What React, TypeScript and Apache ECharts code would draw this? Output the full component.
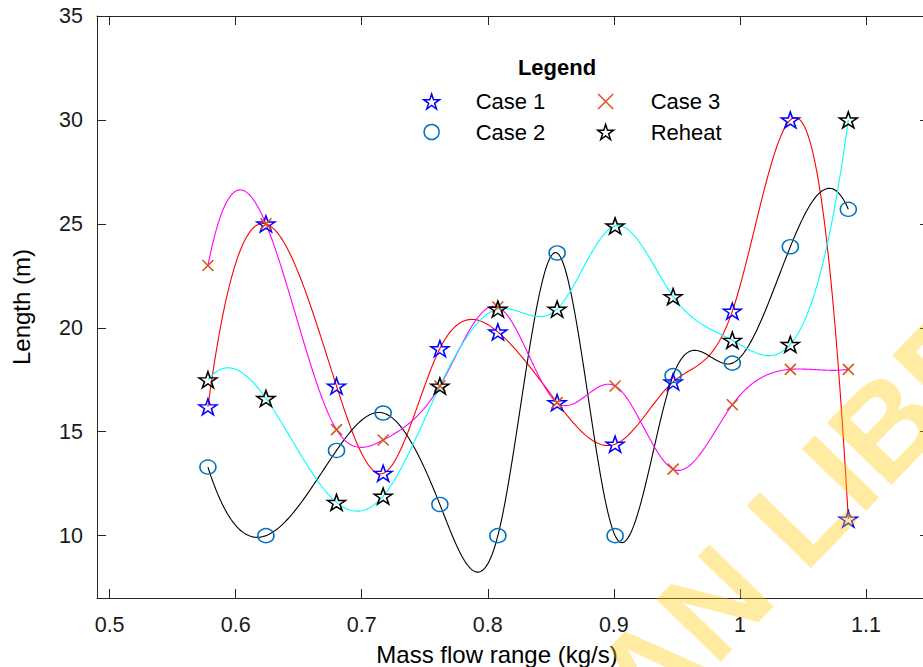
import React, { useEffect, useRef } from "react";
import * as echarts from "echarts";

const massFlow = [0.578, 0.624, 0.68, 0.717, 0.762, 0.808, 0.855, 0.901, 0.947, 0.994, 1.04, 1.086];
const case1 = [16.2, 25, 17.2, 13, 19, 19.8, 16.4, 14.4, 17.4, 20.8, 30, 10.8];
const case2 = [13.3, 10, 14.1, 15.9, 11.5, 10, 23.6, 10, 17.7, 18.3, 23.9, 25.7];
const case3 = [23, 25, 15.1, 14.6, 17.2, 21, 16.4, 17.2, 13.2, 16.3, 18, 18];
const reheat = [17.5, 16.6, 11.6, 11.9, 17.2, 20.9, 20.9, 24.9, 21.5, 19.4, 19.2, 30];
const xTicks = [0.5, 0.6, 0.7, 0.8, 0.9, 1, 1.1];
const yTicks = [10, 15, 20, 25, 30, 35];

const FONT = "'Liberation Sans', Arial, Helvetica, sans-serif";
const STAR =
  "path://M50 0 L61.23 34.55 L97.55 34.55 L68.17 55.9 L79.39 90.45 L50 69.1 L20.61 90.45 L31.83 55.9 L2.45 34.55 L38.77 34.55 Z";
const CROSS = "path://M0 0 L10 10 M10 0 L0 10";

// MATLAB-style not-a-knot cubic spline second derivatives
function splineM(xs: number[], ys: number[]): number[] {
  const n = xs.length;
  const h: number[] = [];
  for (let i = 0; i < n - 1; i++) h.push(xs[i + 1] - xs[i]);
  const A: number[][] = [];
  const b: number[] = [];
  for (let i = 0; i < n; i++) {
    A.push(new Array(n).fill(0));
    b.push(0);
  }
  A[0][0] = h[1];
  A[0][1] = -(h[0] + h[1]);
  A[0][2] = h[0];
  for (let i = 1; i < n - 1; i++) {
    A[i][i - 1] = h[i - 1];
    A[i][i] = 2 * (h[i - 1] + h[i]);
    A[i][i + 1] = h[i];
    b[i] = 6 * ((ys[i + 1] - ys[i]) / h[i] - (ys[i] - ys[i - 1]) / h[i - 1]);
  }
  A[n - 1][n - 3] = h[n - 2];
  A[n - 1][n - 2] = -(h[n - 3] + h[n - 2]);
  A[n - 1][n - 1] = h[n - 3];
  for (let c = 0; c < n; c++) {
    let p = c;
    for (let r = c + 1; r < n; r++) if (Math.abs(A[r][c]) > Math.abs(A[p][c])) p = r;
    [A[c], A[p]] = [A[p], A[c]];
    [b[c], b[p]] = [b[p], b[c]];
    for (let r = c + 1; r < n; r++) {
      const f = A[r][c] / A[c][c];
      if (f === 0) continue;
      for (let k = c; k < n; k++) A[r][k] -= f * A[c][k];
      b[r] -= f * b[c];
    }
  }
  const M = new Array(n).fill(0);
  for (let r = n - 1; r >= 0; r--) {
    let s = b[r];
    for (let k = r + 1; k < n; k++) s -= A[r][k] * M[k];
    M[r] = s / A[r][r];
  }
  return M;
}

function splineCurve(xs: number[], ys: number[], steps = 40): number[][] {
  const M = splineM(xs, ys);
  const out: number[][] = [];
  for (let i = 0; i < xs.length - 1; i++) {
    const h = xs[i + 1] - xs[i];
    for (let s = 0; s <= steps; s++) {
      if (i > 0 && s === 0) continue;
      const x = xs[i] + (h * s) / steps;
      const a = xs[i + 1] - x;
      const c = x - xs[i];
      const y =
        (M[i] * a * a * a) / (6 * h) +
        (M[i + 1] * c * c * c) / (6 * h) +
        (ys[i] / h - (M[i] * h) / 6) * a +
        (ys[i + 1] / h - (M[i + 1] * h) / 6) * c;
      out.push([x, y]);
    }
  }
  return out;
}

function curveSeries(ys: number[], color: string) {
  return {
    type: "custom",
    coordinateSystem: "cartesian2d",
    silent: true,
    z: 2,
    data: massFlow.map((x, i) => [x, ys[i]]),
    encode: { x: 0, y: 1 },
    renderItem: (params: any, api: any) => {
      if (params.dataIndex !== 0) return null;
      const pts = splineCurve(massFlow, ys).map((p) => api.coord(p));
      return {
        type: "polyline",
        shape: { points: pts },
        style: { stroke: color, lineWidth: 1.1, fill: "none" },
      };
    },
  };
}

function markerSeries(name: string, ys: number[], symbol: string, size: any, color: string, bw: number) {
  return {
    name,
    type: "scatter",
    z: 5,
    symbol,
    symbolSize: size,
    data: massFlow.map((x, i) => [x, ys[i]]),
    itemStyle: { color: "rgba(0,0,0,0)", borderColor: color, borderWidth: bw, opacity: 1 },
    emphasis: { disabled: true },
  };
}

const axisColor = "#262626";

export default function App() {
  const ref = useRef<HTMLDivElement>(null);
  useEffect(() => {
    if (!ref.current) return;
    const chart = echarts.init(ref.current, null, { renderer: "svg" });
    const legendText = { fontFamily: FONT, fontSize: 22, color: "#000", lineHeight: 22 };
    chart.setOption({
      animation: false,
      backgroundColor: "#fff",
      grid: { left: 97, top: 16, right: -6, bottom: 69, containLabel: false, outerBoundsMode: "none" },
      xAxis: [
        {
          type: "value",
          min: 0.49,
          max: 1.15,
          position: "bottom",
          name: "Mass flow range (kg/s)",
          nameLocation: "middle",
          nameGap: 44,
          nameTextStyle: { fontFamily: FONT, fontSize: 24, color: "#000", padding: [0, 32, 0, 0] },
          axisLine: { show: true, lineStyle: { color: axisColor, width: 1 } },
          axisTick: { show: true, inside: true, length: 9, customValues: xTicks, lineStyle: { color: axisColor } },
          axisLabel: { customValues: xTicks, fontFamily: FONT, fontSize: 21.5, color: "#1a1a1a", margin: 16 },
          splitLine: { show: false },
        },
        {
          type: "value",
          min: 0.49,
          max: 1.15,
          position: "top",
          axisLine: { show: true, lineStyle: { color: axisColor, width: 1 } },
          axisTick: { show: true, inside: true, length: 9, customValues: xTicks, lineStyle: { color: axisColor } },
          axisLabel: { show: false, customValues: xTicks },
          splitLine: { show: false },
        },
      ],
      yAxis: [
        {
          type: "value",
          min: 7,
          max: 35,
          position: "left",
          name: "Length (m)",
          nameLocation: "middle",
          nameGap: 64,
          nameTextStyle: { fontFamily: FONT, fontSize: 24, color: "#000" },
          axisLine: { show: true, lineStyle: { color: axisColor, width: 1 } },
          axisTick: { show: true, inside: true, length: 9, customValues: yTicks, lineStyle: { color: axisColor } },
          axisLabel: { customValues: yTicks, fontFamily: FONT, fontSize: 21.5, color: "#1a1a1a", margin: 14, padding: [5, 0, 0, 0] },
          splitLine: { show: false },
        },
        {
          type: "value",
          min: 7,
          max: 35,
          position: "right",
          axisLine: { show: true, lineStyle: { color: axisColor, width: 1 } },
          axisTick: { show: true, inside: true, length: 9, customValues: yTicks, lineStyle: { color: axisColor } },
          axisLabel: { show: false, customValues: yTicks },
          splitLine: { show: false },
        },
      ],
      legend: [
        {
          orient: "vertical",
          left: 423,
          top: 90.5,
          padding: 0,
          itemWidth: 18,
          itemHeight: 15,
          itemGap: 8.5,
          selectedMode: false,
          textStyle: { ...legendText, padding: [0, 0, 0, 30] },
          data: [
            { name: "Case 1", icon: STAR, itemStyle: { color: "rgba(0,0,0,0)", borderColor: "#0000ff", borderWidth: 1.5 } },
            { name: "Case 2", icon: "circle", itemStyle: { color: "rgba(0,0,0,0)", borderColor: "#0072BD", borderWidth: 1.5 } },
          ],
        },
        {
          orient: "vertical",
          left: 597,
          top: 90.5,
          padding: 0,
          itemWidth: 18,
          itemHeight: 15,
          itemGap: 8.5,
          selectedMode: false,
          textStyle: { ...legendText, padding: [0, 0, 0, 31] },
          data: [
            { name: "Case 3", icon: CROSS, itemStyle: { color: "rgba(0,0,0,0)", borderColor: "#D95319", borderWidth: 1.5 } },
            { name: "Reheat", icon: STAR, itemStyle: { color: "rgba(0,0,0,0)", borderColor: "#000000", borderWidth: 1.5 } },
          ],
        },
      ],
      graphic: [
        {
          type: "text",
          x: 557,
          y: 67,
          style: { text: "Legend", font: `bold 22px ${FONT}`, fill: "#000", textAlign: "center", textVerticalAlign: "middle" },
        },
        {
          type: "text",
          x: 617,
          y: 704,
          rotation: (46 * Math.PI) / 180,
          z: 100,
          silent: true,
          style: {
            text: "AN LIBRARY",
            font: `bold 130px ${FONT}`,
            fill: "rgba(255,200,0,0.37)",
            textAlign: "left",
            textVerticalAlign: "middle",
          },
        },
      ],
      series: [
        curveSeries(case1, "#ff0000"),
        curveSeries(case2, "#000000"),
        curveSeries(case3, "#ff00ff"),
        curveSeries(reheat, "#00ffff"),
        markerSeries("Case 1", case1, STAR, [18, 16], "#0000ff", 1.5),
        markerSeries("Case 2", case2, "circle", [16, 14], "#0072BD", 1.5),
        markerSeries("Case 3", case3, CROSS, [11, 11], "#D95319", 1.5),
        markerSeries("Reheat", reheat, STAR, [18, 16], "#000000", 1.5),
      ],
    });
    return () => chart.dispose();
  }, []);
  return <div ref={ref} style={{ position: "fixed", left: 0, top: 0, width: 923, height: 667 }} />;
}
